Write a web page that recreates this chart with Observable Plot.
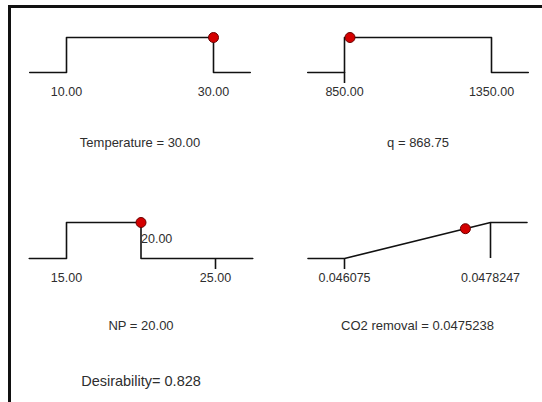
<!DOCTYPE html>
<html>
<head>
<meta charset="utf-8">
<script src="https://cdn.jsdelivr.net/npm/d3@7"></script>
<script src="https://cdn.jsdelivr.net/npm/@observablehq/plot@0.6"></script>
<style>
  html, body { margin: 0; padding: 0; background: #fff; }
  #chart { position: relative; width: 542px; height: 402px; overflow: hidden; background: #fff; }
  #frame { position: absolute; left: 8px; top: 5px; width: 700px; height: 600px;
           border-top: 3px solid #111; border-left: 3px solid #111; }
  .panel { position: absolute; }
</style>
</head>
<body>
<div id="chart"><div id="frame"></div></div>
<script>
// ---- data ----
const factors        = ["Temperature", "q", "NP", "CO2 removal"];
const lows           = [10, 850, 15, 0.046075];
const highs          = [30, 1350, 25, 0.0478247];
const goalLows       = [10, 850, 15, 0.046075];
const goalHighs      = [30, 1350, 20, 0.0478247];
const goals          = ["range", "range", "range", "maximize"];
const values         = [30, 868.75, 20, 0.0475238];
const valueLabels    = ["30.00", "868.75", "20.00", "0.0475238"];
const lowLabels      = ["10.00", "850.00", "15.00", "0.046075"];
const highLabels     = ["30.00", "1350.00", "25.00", "0.0478247"];
const desirabilities = [1, 1, 1, 0.828];
const markTicks      = [[], [850], [25], [0.046075]];
const showValueTag   = [false, false, true, false];
const overallLabel   = "Desirability";
const overallValue   = "0.828";

// ---- layout (pixels) ----
const layout = [
  {left: 0,   top: 0,   height: 190, mt: 37, mb: 118, ml: 66, mr: 58, titleDy: 74},
  {left: 271, top: 0,   height: 190, mt: 37, mb: 118, ml: 73, mr: 51, titleDy: 74},
  {left: 0,   top: 190, height: 212, mt: 32, mb: 144, ml: 66, mr: 56, titleDy: 71},
  {left: 271, top: 190, height: 212, mt: 32, mb: 144, ml: 73, mr: 52, titleDy: 71}
];

const ink = "#111";
const textColor = "#2e2e2e";
const font = "'Liberation Sans', Arial, sans-serif";

factors.forEach((name, i) => {
  const lo = lows[i], hi = highs[i];
  const ext = (hi - lo) * 0.25;
  let path;
  if (goals[i] === "range") {
    path = [
      {x: lo - ext, y: 0}, {x: goalLows[i], y: 0}, {x: goalLows[i], y: 1},
      {x: goalHighs[i], y: 1}, {x: goalHighs[i], y: 0}, {x: hi + ext, y: 0}
    ];
  } else {
    path = [{x: lo - ext, y: 0}, {x: lo, y: 0}, {x: hi, y: 1}, {x: hi + ext, y: 1}];
  }
  const L = layout[i];
  const marks = [
    Plot.line(path, {x: "x", y: "y", stroke: ink, strokeWidth: 1.6}),
    goals[i] === "maximize" ? Plot.ruleX([hi], {y1: 0, y2: 1, stroke: ink, strokeWidth: 1.6}) : null,
    markTicks[i].length ? Plot.axisX(markTicks[i], {anchor: "bottom", tickSize: 11, tickFormat: () => "", stroke: ink, strokeWidth: 1.6, label: null}) : null,
    Plot.axisX([lo, hi], {anchor: "bottom", tickSize: 0, tickPadding: 15, tickFormat: (d, j) => [lowLabels[i], highLabels[i]][j], fontSize: 12.5, fill: textColor, label: null}),
    Plot.text([`${name} = ${valueLabels[i]}`], {frameAnchor: "bottom", dy: L.titleDy, fontSize: 13, fill: textColor}),
    showValueTag[i] ? Plot.text([values[i]], {x: d => d, y: 0.55, text: () => valueLabels[i], textAnchor: "start", dx: 0, fontSize: 12.5, fill: textColor}) : null,
    Plot.dot([{x: values[i], y: desirabilities[i]}], {x: "x", y: "y", r: 5, fill: "#d40000", stroke: "#6a0000", strokeWidth: 1}),
    i === 2 ? Plot.text([`${overallLabel}= ${overallValue}`], {frameAnchor: "bottom", dy: 127, fontSize: 14.5, fill: textColor}) : null
  ].filter(Boolean);

  const svg = Plot.plot({
    width: 271,
    height: L.height,
    marginTop: L.mt, marginBottom: L.mb, marginLeft: L.ml, marginRight: L.mr,
    x: {domain: [lo, hi], axis: null, label: null},
    y: {domain: [0, 1], axis: null, label: null},
    style: {background: "none", fontFamily: font, color: textColor, overflow: "visible"},
    marks
  });
  svg.classList.add("panel");
  svg.style.left = L.left + "px";
  svg.style.top = L.top + "px";
  svg.style.maxWidth = "none";
  document.getElementById("chart").appendChild(svg);
});
</script>
</body>
</html>
